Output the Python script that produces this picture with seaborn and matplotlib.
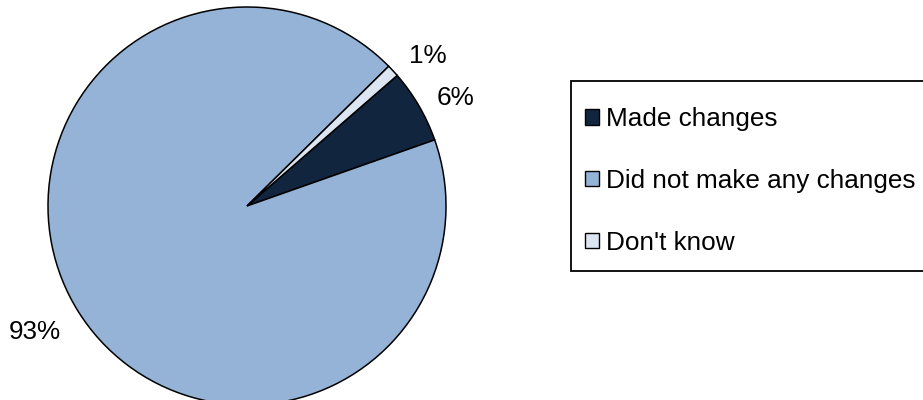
import matplotlib
matplotlib.use("Agg")
import numpy as np
import matplotlib.pyplot as plt
from matplotlib.patches import Rectangle
import seaborn as sns

# Survey responses (share of respondents, %)
categories = ["Made changes", "Did not make any changes", "Don't know"]
shares = [6, 93, 1]
slice_colors = ["#11253F", "#95B3D7", "#DCE6F2"]

sns.set_theme(style="white")
plt.rcParams["font.family"] = ["Liberation Sans", "DejaVu Sans"]
plt.rcParams["text.color"] = "black"

W, H = 923, 400
FS = 18.8
fig = plt.figure(figsize=(W / 100, H / 100), dpi=100)
fig.patch.set_facecolor("white")

# Pie occupies a square region on the left
cx, cy, r = 247, 206, 199
ax = fig.add_axes([(cx - r) / W, (H - cy - r) / H, 2 * r / W, 2 * r / H])

wedges, texts, autotexts = ax.pie(
    shares,
    colors=slice_colors,
    startangle=41,
    counterclock=False,
    autopct=lambda p: f"{p:.0f}%",
    pctdistance=1.2,
    wedgeprops=dict(edgecolor="black", linewidth=1.1),
    textprops=dict(fontsize=FS, color="black"),
)

# Outside labels: place slightly clockwise of each slice's middle
label_shift_deg = [-2.8, -1.3, -3.0]
label_dist = [1.18, 1.24, 1.18]
for w, t, dth, dist in zip(wedges, autotexts, label_shift_deg, label_dist):
    mid = np.deg2rad((w.theta1 + w.theta2) / 2 + dth)
    t.set_position((dist * np.cos(mid), dist * np.sin(mid)))
    t.set_ha("center")
    t.set_va("center")

ax.set_xlim(-1, 1)
ax.set_ylim(-1, 1)
ax.set_aspect("equal")
ax.axis("off")

# Legend box
fig.patches.append(Rectangle((571 / W, 1 - 271 / H), 360 / W, 190 / H,
                             transform=fig.transFigure, facecolor="white",
                             edgecolor="black", linewidth=1.3, zorder=0))

leg = fig.legend(
    wedges,
    categories,
    loc="upper left",
    bbox_to_anchor=(585 / W, 1 - 107 / H),
    bbox_transform=fig.transFigure,
    borderaxespad=0,
    fontsize=FS,
    labelcolor="black",
    frameon=False,
    handlelength=0.55,
    handleheight=0.55,
    handletextpad=0.27,
    labelspacing=1.45,
    borderpad=0,
)
for h in leg.legend_handles:
    h.set_edgecolor("black")
    h.set_linewidth(1.0)

fig.savefig("out.png", dpi=100, facecolor="white")
